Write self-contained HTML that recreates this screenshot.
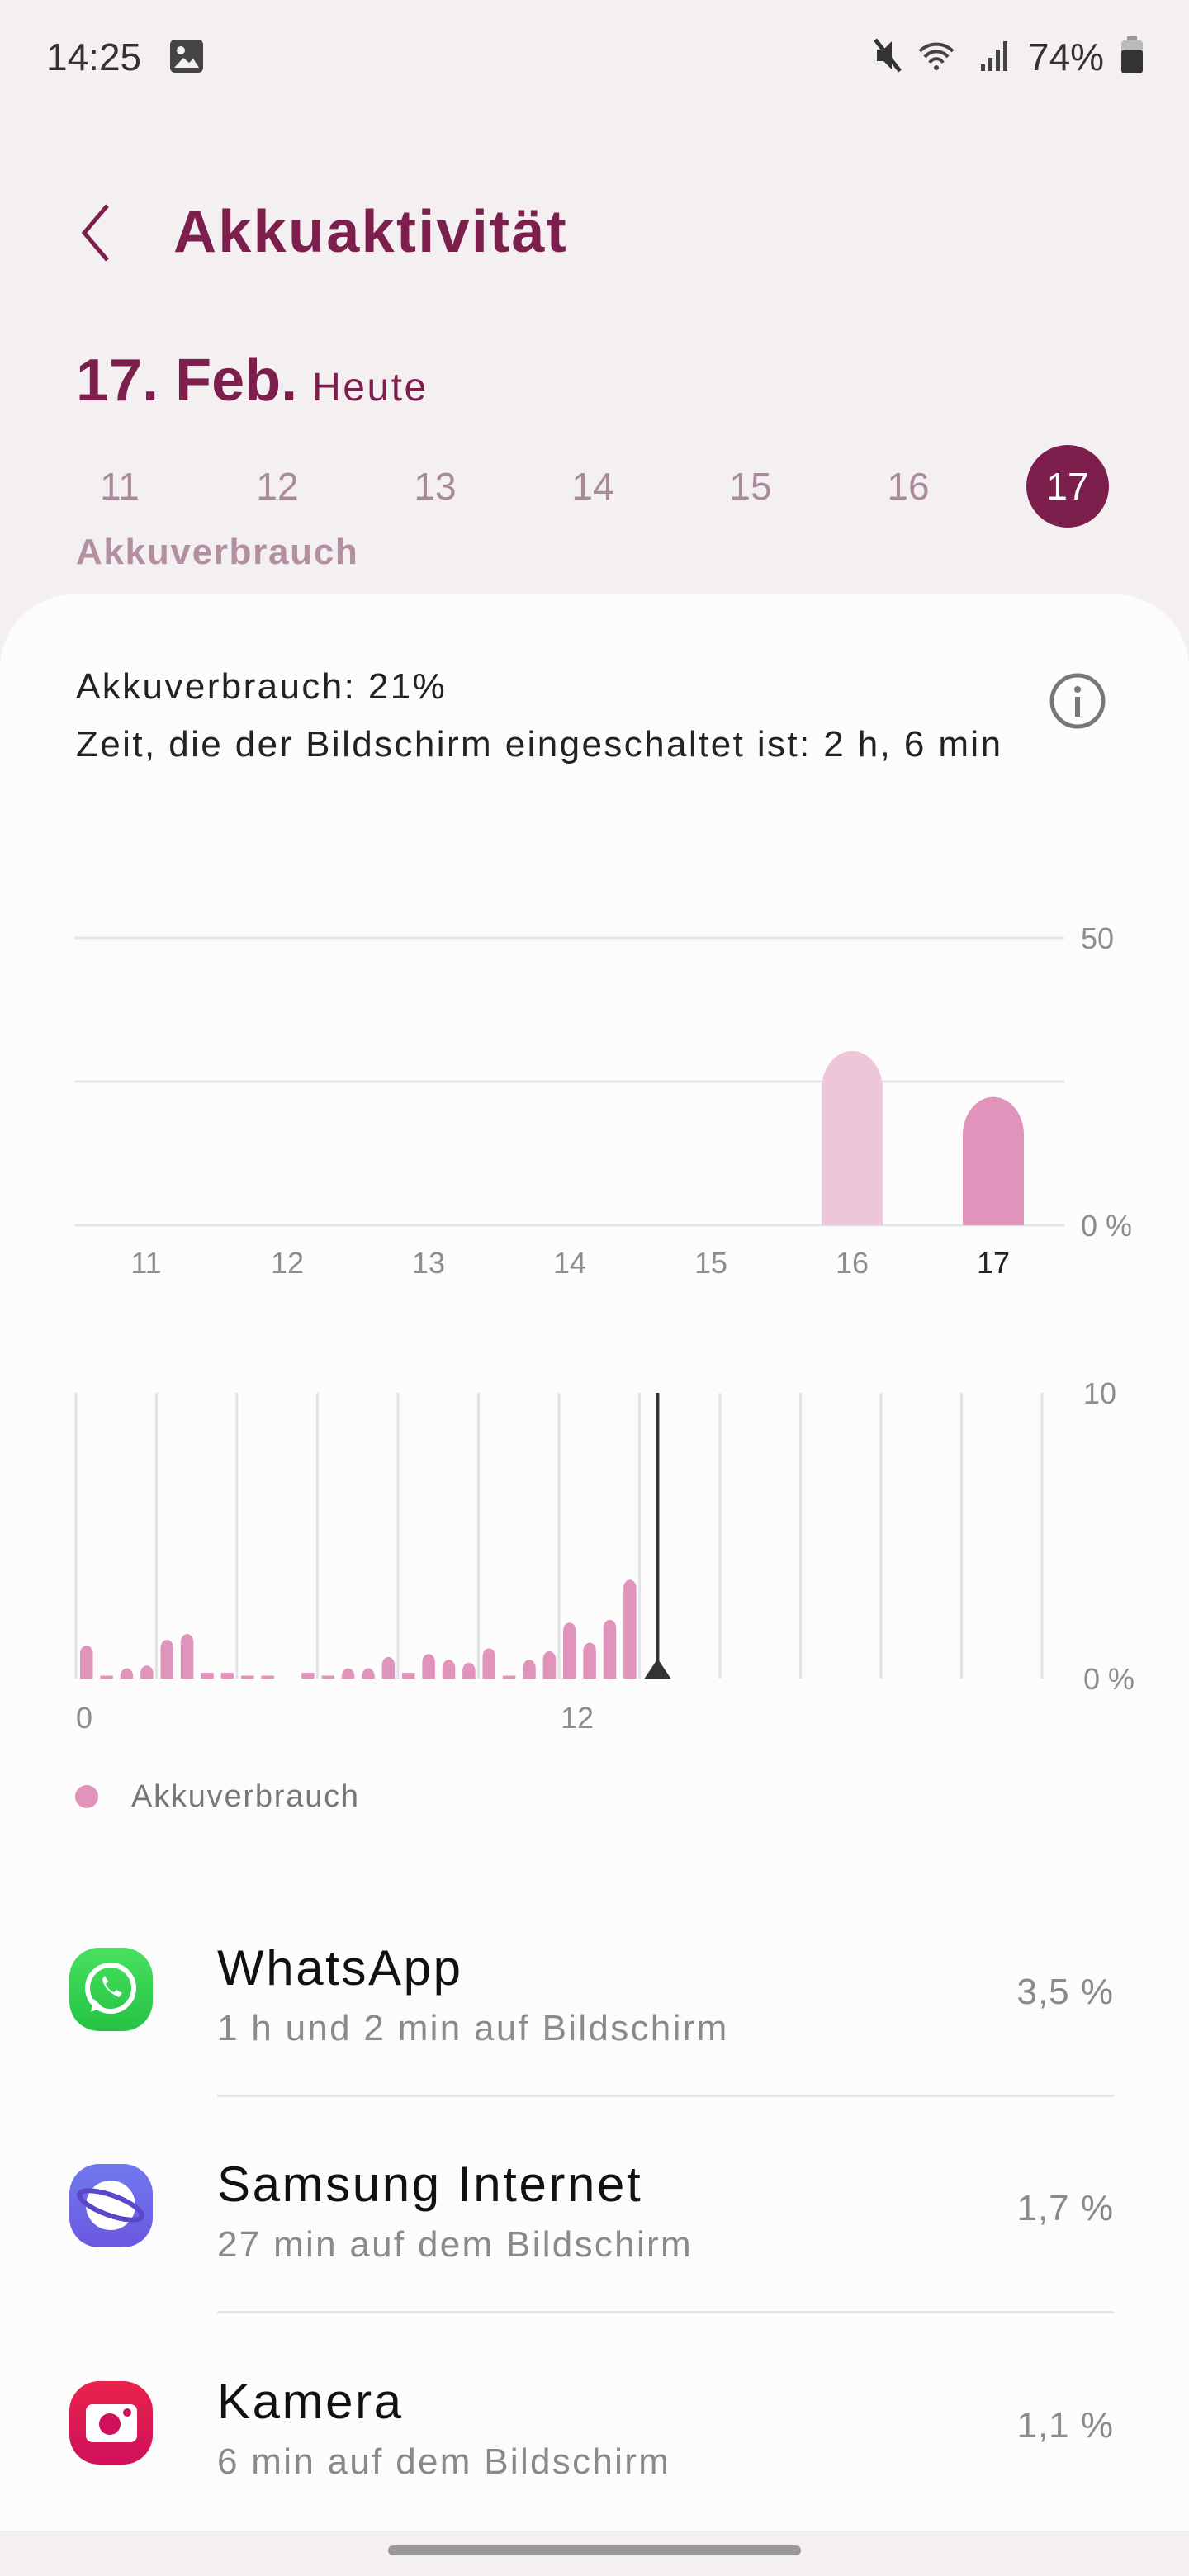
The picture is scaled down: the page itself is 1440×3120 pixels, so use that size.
<!DOCTYPE html>
<html><head><meta charset="utf-8">
<style>
html,body{margin:0;padding:0;}
body{width:1440px;height:3120px;background:#f4eff1;position:relative;overflow:hidden;font-family:"Liberation Sans",sans-serif;}
.a{position:absolute;white-space:nowrap;}
#card{position:absolute;left:0;top:720px;width:1440px;height:2345px;background:#fcfcfc;border-radius:90px 90px 0 0;}
.day{position:absolute;top:562px;width:100px;margin-left:-50px;text-align:center;font-size:46px;color:#a98a9a;line-height:54px;}
.t{font-size:60px;color:#111;letter-spacing:2.6px;}
.s{font-size:44px;color:#8a8a8a;letter-spacing:2.3px;}
.p{font-size:44px;color:#8a8a8a;right:91px;letter-spacing:1px;}
.icon{position:absolute;left:84px;width:101px;height:101px;border-radius:36px;}
.div{position:absolute;left:263px;width:1086px;height:3px;background:#e6e6e6;}
</style></head>
<body>
<div class="a" style="left:56px;top:42px;font-size:46px;color:#333;">14:25</div>
<svg class="a" style="left:204px;top:46px" width="44" height="44"><rect x="2" y="2" width="40" height="40" rx="6" fill="#444"/><circle cx="15" cy="15" r="5" fill="#f4eff1"/><path d="M7 36 L18 24 L25 30 L30 25 L37 36 Z" fill="#f4eff1"/></svg>
<svg class="a" style="left:1056px;top:42px" width="180" height="50"><path d="M6 18h8l10-10v34l-10-10H6z" fill="#333"/><line x1="4" y1="6" x2="34" y2="44" stroke="#333" stroke-width="5"/><path d="M58 20a28 28 0 0 1 40 0M64 27a18 18 0 0 1 28 0M70 34a9 9 0 0 1 16 0" stroke="#444" stroke-width="4" fill="none"/><circle cx="78" cy="40" r="3" fill="#444"/><rect x="132" y="36" width="5" height="8" fill="#444"/><rect x="141" y="28" width="5" height="16" fill="#444"/><rect x="150" y="18" width="5" height="26" fill="#444"/><rect x="159" y="8" width="5" height="36" fill="#444"/></svg>
<div class="a" style="left:1245px;top:42px;font-size:46px;color:#333;">74%</div>
<svg class="a" style="left:1356px;top:44px" width="30" height="48"><rect x="9" y="0" width="12" height="6" fill="#999"/><rect x="2" y="5" width="26" height="40" rx="4" fill="#bbb"/><rect x="2" y="16" width="26" height="29" rx="4" fill="#333"/></svg>

<svg class="a" style="left:90px;top:245px" width="50" height="75"><path d="M40 4 L12 37 L40 70" stroke="#7d1f4d" stroke-width="5" fill="none"/></svg>
<div class="a" style="left:210px;top:240px;font-size:72px;font-weight:bold;color:#7d1f4d;letter-spacing:2.3px;">Akkuaktivität</div>
<div class="a" style="left:92px;top:420px;color:#7d1f4d;"><span style="font-size:72px;font-weight:bold;">17. Feb.</span><span style="font-size:48px;margin-left:18px;letter-spacing:2.5px;">Heute</span></div>

<div class="day" style="left:145px">11</div>
<div class="day" style="left:336px">12</div>
<div class="day" style="left:527px">13</div>
<div class="day" style="left:718px">14</div>
<div class="day" style="left:909px">15</div>
<div class="day" style="left:1100px">16</div>
<div class="a" style="left:1243px;top:539px;width:100px;height:100px;border-radius:50%;background:#7d1f4d;color:#fff;font-size:46px;line-height:100px;text-align:center;">17</div>
<div class="a" style="left:92px;top:644px;font-size:44px;font-weight:bold;color:#b290a2;letter-spacing:1.7px;">Akkuverbrauch</div>

<div id="card"></div>
<div class="a" style="left:92px;top:797px;font-size:44px;color:#222;line-height:70px;letter-spacing:2.4px;">Akkuverbrauch: 21%<br>Zeit, die der Bildschirm eingeschaltet ist: 2 h, 6 min</div>
<svg class="a" style="left:1269px;top:813px" width="72" height="72"><circle cx="36" cy="36" r="31" stroke="#777" stroke-width="5" fill="none"/><circle cx="36" cy="22" r="4" fill="#777"/><rect x="33" y="31" width="6" height="24" fill="#777"/></svg>

<svg id="charts" class="a" style="left:0;top:0" width="1440" height="2200"></svg>

<div class="a" style="left:91px;top:2162px;width:28px;height:28px;border-radius:50%;background:#e094bb;"></div>
<div class="a" style="left:159px;top:2155px;font-size:38px;color:#777;letter-spacing:1.8px;">Akkuverbrauch</div>

<div class="icon" style="top:2359px;background:linear-gradient(#48e060,#25c243);">
<svg width="101" height="101"><circle cx="50" cy="49" r="28" stroke="#fff" stroke-width="6" fill="none"/><path d="M26 78 L30 62 L40 72 Z" fill="#fff"/><path d="M40 38 q2 14 20 22 l4-5 -7-4 -3 3 q-7-3 -10-10 l3-3 -4-7z" fill="#fff"/></svg></div>
<div class="a t" style="left:263px;top:2349px;">WhatsApp</div>
<div class="a s" style="left:263px;top:2432px;">1 h und 2 min auf Bildschirm</div>
<div class="a p" style="top:2388px;">3,5 %</div>
<div class="div" style="top:2537px"></div>

<div class="icon" style="top:2621px;background:linear-gradient(#7079ee,#6b58e0);">
<svg width="101" height="101"><circle cx="50" cy="50" r="30" fill="#fff"/><ellipse cx="50" cy="50" rx="40" ry="12" transform="rotate(20 50 50)" stroke="#5a48c8" stroke-width="6" fill="none"/></svg></div>
<div class="a t" style="left:263px;top:2611px;">Samsung Internet</div>
<div class="a s" style="left:263px;top:2694px;">27 min auf dem Bildschirm</div>
<div class="a p" style="top:2650px;">1,7 %</div>
<div class="div" style="top:2799px"></div>

<div class="icon" style="top:2884px;background:linear-gradient(#e8234c,#d0105a);">
<svg width="101" height="101"><rect x="20" y="28" width="62" height="46" rx="8" fill="#fff"/><circle cx="49" cy="52" r="13" fill="#d0105a"/><circle cx="70" cy="38" r="5" fill="#d0105a"/></svg></div>
<div class="a t" style="left:263px;top:2874px;">Kamera</div>
<div class="a s" style="left:263px;top:2957px;">6 min auf dem Bildschirm</div>
<div class="a p" style="top:2913px;">1,1 %</div>

<div class="a" style="left:470px;top:3083px;width:500px;height:12px;border-radius:6px;background:#999;"></div>

<script>
const dayLabels=["11","12","13","14","15","16","17"];
const dayValues=[0,0,0,0,0,29,21];
const dayTicks=["50","","0 %"];
const hourValues=[1.1,0.1,0.3,0.4,1.3,1.5,0.2,0.2,0.1,0.1,0,0.2,0.1,0.3,0.3,0.7,0.2,0.8,0.6,0.5,1.0,0.1,0.6,0.9,1.9,1.2,2.0,3.4];
const hourTicks=["10","0 %"];
const hourLabels=["0","12"];
const NS="http://www.w3.org/2000/svg";
const svg=document.getElementById('charts');
function mk(tag,attrs,name){const e=document.createElementNS(NS,tag);for(const k in attrs)e.setAttribute(k,attrs[k]);


svg.appendChild(e);return e;}
function barPath(x,w,top,base){const r=w/2;if(base-top<r){return `M${x} ${base}V${top}H${x+w}V${base}Z`;}
return `M${x} ${base}V${top+r}A${r} ${r*1.25} 0 0 1 ${x+w} ${top+r}V${base}Z`;}
// daily chart
const dX0=90,dX1=1289,dTop=1136,dBase=1484,dMax=50;
const dy=v=>dBase-(v/dMax)*(dBase-dTop);
const dxc=i=>177+i*171;
[0,25,50].forEach(v=>mk('rect',{x:dX0,y:dy(v)-1.5,width:dX1-dX0,height:3,fill:'#e5e5e5'},'daily-gridline'));
dayTicks.forEach((t,i)=>{if(!t)return;const v=i===0?50:0;const e=mk('text',{x:1309,y:dy(v)+13,'font-size':36,fill:'#8d8d8d','font-family':'Liberation Sans, sans-serif'},'daily-y-tick');e.textContent=t;});
dayValues.forEach((v,i)=>{if(v<=0)return;mk('path',{d:barPath(dxc(i)-37,74,dy(v),dBase),fill:i===6?'#e094bb':'#edc6da'},'daily-bar-'+dayLabels[i]);});
dayLabels.forEach((l,i)=>{const e=mk('text',{x:dxc(i),y:1542,'font-size':36,'text-anchor':'middle',fill:i===6?'#222':'#8d8d8d','font-family':'Liberation Sans, sans-serif'},'daily-x-label');e.textContent=l;});
// hourly chart
const hX0=92,hStep=97.5/4,hTop=1687,hBase=2033,hMax=10;
const hy=v=>hBase-(v/hMax)*(hBase-hTop);
const hx=i=>hX0+i*hStep;
for(let g=0;g<=12;g++)mk('rect',{x:hX0+g*97.5-1.5,y:hTop,width:3,height:hBase-hTop,fill:'#e3e3e3'},'hourly-gridline');
hourValues.forEach((v,i)=>{if(v<=0)return;mk('path',{d:barPath(hx(i)+5,15.5,hy(v),hBase),fill:'#e094bb'},'hourly-bar');});
const mX=hx(28.9);
mk('rect',{x:mX-2,y:hTop,width:4,height:hBase-hTop,fill:'#333'},'current-time-marker');
mk('path',{d:`M${mX-16} ${hBase} L${mX} ${hBase-24} L${mX+16} ${hBase} Z`,fill:'#333'},'current-time-triangle');
hourTicks.forEach((t,i)=>{const e=mk('text',{x:1312,y:(i===0?hy(10):hy(0))+13,'font-size':36,fill:'#8d8d8d','font-family':'Liberation Sans, sans-serif'},'hourly-y-tick');e.textContent=t;});
hourLabels.forEach((l,i)=>{const e=mk('text',{x:hx(i*24)+(i===0?0:2),y:2093,'font-size':36,fill:'#8d8d8d','font-family':'Liberation Sans, sans-serif'},'hourly-x-label');e.textContent=l;});
</script>
</body></html>
